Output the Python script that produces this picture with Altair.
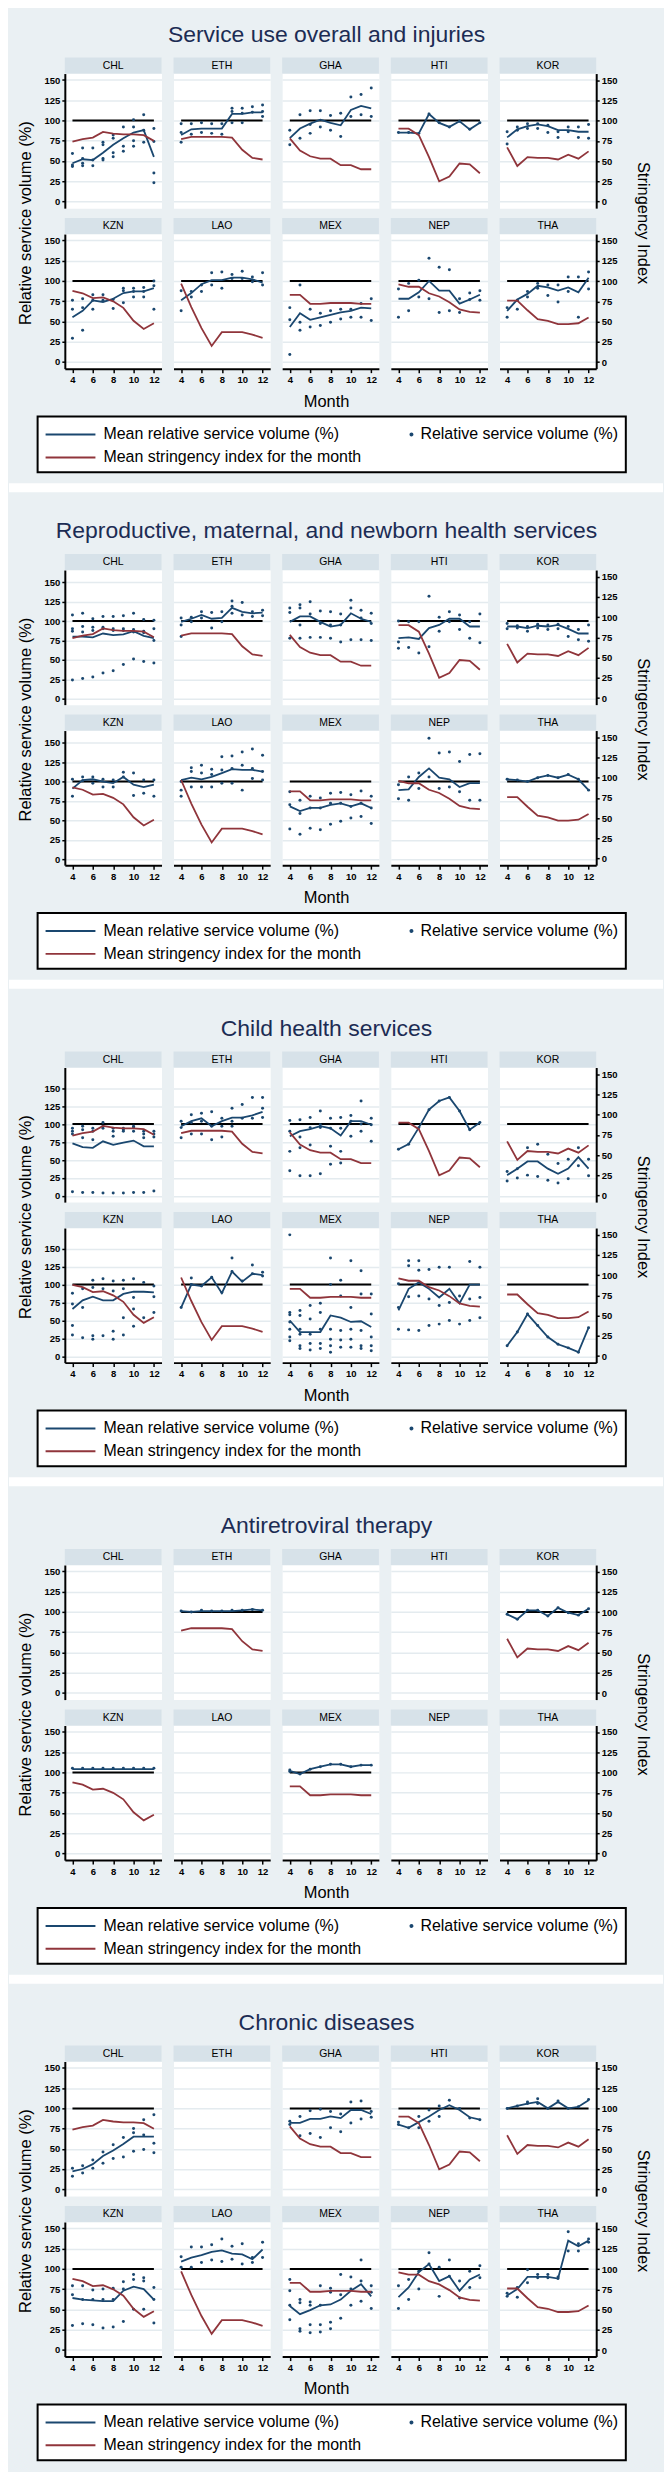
import altair as alt
import pandas as pd

MONTHS = [4, 5, 6, 7, 8, 9, 10, 11, 12]
COUNTRIES = ["CHL", "ETH", "GHA", "HTI", "KOR", "KZN", "LAO", "MEX", "NEP", "THA"]
REF_LEVEL = 100
Y_TICKS = [0, 25, 50, 75, 100, 125, 150]
X_TICKS = [4, 6, 8, 10, 12]
SECTION_TITLES = [
    "Service use overall and injuries",
    "Reproductive, maternal, and newborn health services",
    "Child health services",
    "Antiretroviral therapy",
    "Chronic diseases",
]
# legend entries (order chosen so that the 2-column legend reads like the original)
LEGEND_LABELS = [
    "Mean relative service volume (%)",
    "Mean stringency index for the month",
    "Relative service volume (%)",
]
LEFT_DOMAINS = [[-8.5, 158], [-7.7, 165.8], [-8.5, 178.5], [-8.5, 158], [-8.5, 158]]
RIGHT_DOMAIN = [-8, 158]
X_DOMAIN = [3.25, 12.75]

# Mean stringency index per country and month (same in every section)
STRINGENCY = {
    "CHL": [74, 77, 79, 86, 84, 83, 83, 82, 75],
    "ETH": [77, 80, 80, 80, 80, 79, 64, 54, 52],
    "GHA": [78, 63, 56, 53, 53, 45, 45, 40, 40],
    "HTI": [90, 90, 82, 55, 25, 31, 47, 46, 35],
    "KOR": [67, 44, 55, 54, 54, 52, 58, 53, 62],
    "KZN": [88, 85, 79, 80, 75, 67, 51, 41, 48],
    "LAO": [97, 68, 42, 20, 37, 37, 37, 34, 30],
    "MEX": [83, 83, 72, 72, 73, 73, 73, 72, 72],
    "NEP": [96, 93, 93, 85, 81, 74, 65, 62, 61],
    "THA": [76, 76, 64, 53, 51, 47, 47, 48, 55],
}

# Section 1: Service use overall and injuries
S1_MEAN = {
    "CHL": [47, 52, 51, 60, 70, 78, 85, 88, 55],
    "ETH": [82, 89, 90, 90, 90, 108, 108, 110, 110],
    "GHA": [78, 90, 96, 101, 97, 94, 113, 118, 115],
    "HTI": [85, 85, 84, 108, 97, 92, 99, 89, 97],
    "KOR": [79, 89, 93, 95, 93, 88, 88, 86, 86],
    "KZN": [55, 63, 76, 74, 78, 85, 87, 87, 91],
    "LAO": [76, 85, 96, 101, 101, 104, 104, 102, 98],
    "MEX": [43, 60, 52, 55, 58, 61, 63, 67, 66],
    "NEP": [78, 78, 86, 100, 88, 88, 72, 77, 83],
    "THA": [63, 77, 84, 94, 92, 88, 92, 86, 104],
}
S1_DOTS = {
    "CHL": [[59, 45, 43], [66, 53, 47, 44], [66, 51, 44], [73, 70, 53, 51], [82, 78, 60, 55], [92, 68, 62], [101, 92, 75, 68], [107, 88, 73], [90, 74, 35, 23]],
    "ETH": [[96, 85, 73], [96, 83], [97, 85], [96, 84], [96, 83], [115, 111, 97], [115, 109, 97], [117, 110], [119, 111, 105]],
    "GHA": [[88, 70], [107, 78], [112, 95, 84], [112, 92], [106, 88], [109, 80], [129, 105], [132, 107], [140, 105]],
    "HTI": [[85], [85], [84], [108], [97], [92], [99], [89], [97]],
    "KOR": [[86, 71], [92, 88], [96, 90], [96, 90], [94, 85], [86, 79], [92, 86], [92, 79], [95, 78]],
    "KZN": [[76, 65, 29], [78, 67, 39], [83, 76, 65], [83, 76], [77, 66], [91, 88, 73], [91, 87, 80], [92, 87, 80], [100, 94, 65]],
    "LAO": [[88, 63], [87, 80], [95, 87], [110, 95], [111, 91], [108, 103], [112, 103], [105, 99], [110, 95]],
    "MEX": [[67, 52, 9], [95, 49, 39], [65, 43], [60, 45], [63, 49], [65, 53], [65, 55], [72, 55], [78, 51]],
    "NEP": [[90, 55], [97, 63], [101, 80], [128, 78], [117, 61], [114, 63], [78, 61], [85, 77], [88, 76]],
    "THA": [[67, 55], [76, 65], [87, 80], [97, 91], [95, 82], [95, 74], [105, 87], [105, 55], [111, 90]],
}

# Section 2: Reproductive, maternal, and newborn health services
S2_MEAN = {
    "CHL": [80, 80, 79, 84, 82, 83, 87, 81, 78],
    "ETH": [99, 103, 108, 103, 104, 117, 112, 110, 111],
    "GHA": [99, 106, 106, 99, 93, 95, 110, 103, 99],
    "HTI": [78, 79, 77, 91, 95, 103, 103, 93, 93],
    "KOR": [93, 93, 91, 94, 93, 95, 90, 84, 84],
    "KZN": [91, 102, 103, 100, 98, 106, 96, 93, 96],
    "LAO": [102, 105, 103, 106, 111, 116, 115, 115, 113],
    "MEX": [68, 62, 66, 66, 70, 72, 68, 72, 66],
    "NEP": [89, 90, 106, 117, 105, 103, 93, 98, 98],
    "THA": [103, 102, 100, 105, 108, 105, 109, 103, 89],
}
S2_DOTS = {
    "CHL": [[108, 90, 87, 24], [110, 93, 86, 26], [103, 92, 88, 28], [106, 92, 90, 33], [106, 90, 88, 36], [107, 90, 88, 44], [110, 89, 86, 51], [102, 87, 85, 48], [101, 90, 75, 46]],
    "ETH": [[104, 95, 80], [105, 99], [112, 104], [111, 91], [112, 99], [126, 119, 110], [124, 108], [112, 106], [114, 107]],
    "GHA": [[117, 111, 78], [121, 117, 95, 78], [125, 109, 79], [113, 97, 79], [112, 95, 78], [109, 95, 73], [127, 117, 76], [114, 104, 76], [110, 97, 75]],
    "HTI": [[100, 73, 65], [99, 66], [99, 59], [132, 67], [105, 87], [112, 99], [108, 89], [99, 78], [109, 72]],
    "KOR": [[97, 90], [94, 91], [93, 87], [96, 91], [95, 89], [96, 90], [93, 80], [89, 76], [95, 74]],
    "KZN": [[103, 81], [106, 101], [106, 98], [103, 93], [102, 93], [112, 106], [111, 82], [102, 85], [102, 81]],
    "LAO": [[100, 89, 81], [118, 113, 93], [121, 111, 93], [116, 109, 93], [132, 115, 98], [133, 117, 98], [138, 121, 89], [142, 117, 104], [134, 113, 102]],
    "MEX": [[87, 70, 39], [76, 59, 32], [81, 66, 40], [79, 66, 38], [85, 72, 45], [86, 72, 49], [83, 68, 53], [88, 72, 55], [81, 66, 46]],
    "NEP": [[96, 78], [106, 76], [111, 91], [156, 106], [137, 91], [138, 93], [126, 87], [135, 76], [136, 76]],
    "THA": [[103], [102], [100], [105], [108], [105], [109], [103], [89]],
}

# Section 3: Child health services
S3_MEAN = {
    "CHL": [73, 68, 67, 76, 71, 74, 77, 69, 69],
    "ETH": [97, 104, 108, 97, 104, 109, 109, 112, 117],
    "GHA": [83, 90, 93, 97, 94, 84, 104, 104, 99],
    "HTI": [65, 72, 95, 120, 132, 137, 118, 92, 102],
    "KOR": [29, 38, 48, 48, 38, 31, 38, 54, 38],
    "KZN": [66, 78, 83, 78, 78, 87, 90, 90, 89],
    "LAO": [68, 100, 98, 110, 88, 118, 104, 115, 113],
    "MEX": [50, 34, 34, 34, 57, 54, 48, 49, 41],
    "NEP": [64, 94, 103, 94, 82, 94, 74, 100, 100],
    "THA": [15, 34, 59, 43, 27, 17, 12, 6, 40],
}
S3_DOTS = {
    "CHL": [[94, 90, 86, 6], [97, 92, 81, 5], [94, 90, 78, 5], [102, 97, 94, 4], [94, 90, 83, 4], [94, 92, 90, 4], [97, 95, 90, 5], [90, 86, 81, 5], [90, 86, 82, 7]],
    "ETH": [[104, 95, 81], [113, 102, 86], [115, 104, 86], [117, 97, 78], [108, 97, 82], [122, 104, 97], [127, 108], [137, 108], [137, 122, 109]],
    "GHA": [[105, 90, 62, 35], [106, 82, 67, 28], [109, 95, 71, 28], [118, 99, 95, 31], [108, 94, 69, 44], [109, 94, 62, 46], [112, 104, 83], [132, 100, 90], [108, 99, 76]],
    "HTI": [[65], [72], [95], [120], [132], [137], [118], [92], [102]],
    "KOR": [[34, 21], [38, 25], [67, 29], [72, 27], [58, 22], [45, 18], [51, 24], [67, 42], [51, 28]],
    "KZN": [[88, 73, 43, 30], [94, 68, 26], [106, 96, 29, 24], [108, 94, 29], [105, 91, 35, 24], [106, 94, 54, 30], [108, 82, 66, 42], [103, 54], [98, 83, 61]],
    "LAO": [[68], [109, 100], [98], [110], [89], [137, 118], [105], [127, 115], [117, 112]],
    "MEX": [[169, 61, 58, 48, 38, 27, 22], [64, 57, 38, 31, 15, 11], [71, 52, 31, 18, 9], [74, 61, 38, 18, 11], [137, 100, 38, 24, 15, 6], [106, 84, 36, 23, 13], [133, 68, 38, 24, 13], [119, 87, 36, 15, 11], [87, 59, 27, 15, 8]],
    "NEP": [[101, 68, 38], [133, 126, 83, 37], [133, 120, 84, 36], [121, 80, 43], [124, 71, 45], [124, 75, 50], [84, 45], [132, 80, 50], [124, 82, 54]],
    "THA": [[15], [34], [59], [43], [27], [17], [12], [6], [40]],
}

# Section 4: Antiretroviral therapy
S4_MEAN = {
    "ETH": [101, 100, 101, 101, 101, 101, 102, 103, 102],
    "KOR": [97, 91, 102, 102, 95, 105, 99, 96, 104],
    "KZN": [104, 104, 104, 104, 104, 104, 104, 104, 104],
    "MEX": [102, 98, 104, 107, 110, 110, 107, 109, 109],
}
S4_DOTS = {
    "ETH": [[101], [100], [102], [101], [101], [102], [102], [103], [102]],
    "KOR": [[97], [91], [102], [102], [95], [105], [99], [96], [104]],
    "KZN": [[105], [105], [105], [105], [105], [105], [105], [105], [105]],
    "MEX": [[103, 101], [98], [104], [107], [110], [110], [107], [109], [109]],
}

# Section 5: Chronic diseases
S5_MEAN = {
    "CHL": [22, 25, 31, 41, 48, 56, 65, 65, 65],
    "GHA": [82, 82, 87, 87, 90, 88, 98, 98, 93],
    "HTI": [80, 76, 83, 90, 98, 104, 98, 89, 86],
    "KOR": [100, 103, 106, 108, 100, 108, 100, 102, 110],
    "KZN": [64, 62, 61, 60, 60, 73, 78, 75, 62],
    "LAO": [109, 114, 117, 121, 123, 119, 118, 112, 124],
    "MEX": [54, 44, 49, 55, 56, 62, 73, 81, 66],
    "NEP": [65, 77, 96, 106, 85, 91, 73, 87, 93],
    "THA": [67, 75, 90, 90, 90, 88, 135, 128, 135],
}
S5_DOTS = {
    "CHL": [[26, 16], [29, 20], [36, 26], [46, 32], [55, 38], [64, 40], [75, 70, 47], [86, 67, 49], [92, 57, 45]],
    "GHA": [[84, 80], [90, 66], [97, 69], [99, 64], [96, 76], [93, 71], [108, 82], [109, 87], [96, 89]],
    "HTI": [[83, 80], [76], [90, 76], [98, 84], [103, 90], [110], [100], [88], [86]],
    "KOR": [[100], [103], [108, 106], [112, 106], [100], [109], [100], [102], [111]],
    "KZN": [[79, 68, 30], [79, 62, 32], [74, 62, 31], [75, 62, 27], [76, 62, 28], [84, 75, 35], [93, 87, 50], [89, 85, 50], [77, 62, 33]],
    "LAO": [[115, 102], [127, 102], [127, 108], [130, 111], [137, 109], [128, 112], [131, 106], [114, 108], [133, 114]],
    "MEX": [[87, 73, 55, 37], [62, 58, 26, 23], [59, 55, 31, 21], [79, 55, 31, 22], [76, 71, 34, 26], [93, 68, 39], [90, 75, 55], [111, 85, 60], [79, 71, 51]],
    "NEP": [[79, 51], [87, 62], [97, 75], [120, 106], [102, 66], [111, 91], [85, 64], [97, 77], [104, 89]],
    "THA": [[70, 66], [77, 65], [99, 83], [93, 89], [93, 89], [90, 88], [146, 122], [131, 122], [137, 133]],
}

SECTIONS = [(S1_MEAN, S1_DOTS), (S2_MEAN, S2_DOTS), (S3_MEAN, S3_DOTS), (S4_MEAN, S4_DOTS), (S5_MEAN, S5_DOTS)]

# ---------------- style / layout ----------------
FONT = "Liberation Sans"
NAVY = "#1a476f"
MAROON = "#90353b"
BG = "#eaf0f3"
STRIP = "#d7e2e9"
GRID = "#e4ebef"
TITLE_COLOR = "#1c2c54"
W, H = 97, 135
GRID_CENTER = 262.5          # horizontal centre of the 5 panels, from the first panel's left edge
TITLE_H = [43, 51, 51, 51, 51]
TITLE_Y = [29.3, 37.3, 37.3, 37.3, 37.3]
FOOT_H = 80
SEP_H = [24, 25, 25, 24]
BAND = (8, 17)
LINE_PATH = "M-2.5,0H2.5"
DOT_PATH = "M2.5,0A0.1,0.1 0 1,1 2.3,0A0.1,0.1 0 1,1 2.5,0Z"
CLEAR = alt.ViewBackground(fill="transparent", stroke="transparent")

# ---------------- long table ----------------
rows = []
for si, (mean, dots) in enumerate(SECTIONS):
    for c in COUNTRIES:
        rows.append(dict(section=si, country=c, kind="hdr", month=None, value=None, series=LEGEND_LABELS[0]))
        if c not in mean:
            continue
        for m in (MONTHS[0], MONTHS[-1]):
            rows.append(dict(section=si, country=c, kind="ref", month=m, value=REF_LEVEL, series=""))
        for m, v in zip(MONTHS, mean[c]):
            rows.append(dict(section=si, country=c, kind="mean", month=m, value=v, series=LEGEND_LABELS[0]))
        for m, vs in zip(MONTHS, dots[c]):
            for v in vs:
                rows.append(dict(section=si, country=c, kind="pt", month=m, value=v, series=LEGEND_LABELS[2]))
        for m, v in zip(MONTHS, STRINGENCY[c]):
            rows.append(dict(section=si, country=c, kind="str", month=m, value=v, series=LEGEND_LABELS[1]))
df = pd.DataFrame(rows)

COLOR_SCALE = alt.Scale(domain=LEGEND_LABELS, range=[NAVY, MAROON, NAVY])
SHAPE_SCALE = alt.Scale(domain=LEGEND_LABELS, range=[LINE_PATH, LINE_PATH, DOT_PATH])
LEGEND = alt.Legend(
    title=None, orient="none", legendX=-27.3, legendY=31, columns=2,
    fillColor="white", strokeColor="black", padding=7, rowPadding=4,
    columnPadding=0, labelFont=FONT, labelFontSize=16, labelColor="black",
    labelOffset=22, labelLimit=500, symbolSize=400, symbolOffset=15,
    symbolStrokeWidth=2, symbolOpacity=1,
)

LABEL_STYLE = dict(labelFont=FONT, labelFontSize=9.5, labelFontWeight="bold", labelColor="black")


def rowfilter(si, country, kind):
    return f"datum.section == {si} && datum.country == '{country}' && datum.kind == '{kind}'"


def panel(si, ci, country):
    col, row = ci % 5, ci // 5

    def sub(kind):
        return alt.Chart().transform_filter(rowfilter(si, country, kind))

    if row == 1:
        xaxis = alt.Axis(values=X_TICKS, format="d", grid=False, domainColor="black", domainWidth=2,
                         tickColor="black", tickWidth=1.5, tickSize=4, labelPadding=2,
                         title=None, **LABEL_STYLE)
    else:
        xaxis = None
    if col == 0:
        laxis = alt.Axis(values=Y_TICKS, grid=True, gridColor=GRID, gridWidth=1.5,
                         domainColor="black", domainWidth=2, tickColor="black", tickSize=3,
                         tickWidth=1.5, labelPadding=2, title=None, **LABEL_STYLE)
    else:
        laxis = alt.Axis(values=Y_TICKS, grid=True, gridColor=GRID, gridWidth=1.5,
                         domain=False, ticks=False, labels=False, title=None)
    if col == 4:
        raxis = alt.Axis(orient="right", values=Y_TICKS, grid=False, domainColor="black",
                         domainWidth=2, tickColor="black", tickSize=3, tickWidth=1.5,
                         labelPadding=2, title=None, **LABEL_STYLE)
    else:
        raxis = None

    X = alt.X("month:Q", scale=alt.Scale(domain=X_DOMAIN, nice=False, zero=False), axis=xaxis)
    YL = alt.Y("value:Q", scale=alt.Scale(domain=LEFT_DOMAINS[si], nice=False, zero=False), axis=laxis)
    YR = alt.Y("value:Q", scale=alt.Scale(domain=RIGHT_DOMAIN, nice=False, zero=False), axis=raxis)

    layers = [
        sub("hdr").mark_rect(color=STRIP).encode(
            x=alt.value(0), x2=alt.value(W), y=alt.value(-16), y2=alt.value(0)),
        sub("hdr").mark_text(font=FONT, fontSize=10.5, color="black", align="center",
                             baseline="middle").encode(
            x=alt.value(W / 2), y=alt.value(-8), text="country:N"),
        sub("ref").mark_line(color="black", strokeWidth=2).encode(x=X, y=YL),
        sub("pt").mark_circle(color=NAVY, size=9, opacity=1).encode(x=X, y=YL),
        sub("mean").mark_line(color=NAVY, strokeWidth=1.8).encode(x=X, y=YL),
    ]
    # side titles, centred on the gap between the two panel rows
    if ci == 5:
        layers.append(sub("hdr").mark_text(
            text="Relative service volume (%)", angle=270, font=FONT, fontSize=16.5,
            color="black", align="center", baseline="middle").encode(
            x=alt.value(-39), y=alt.value(-11)))
    if ci == 9:
        layers.append(sub("hdr").mark_text(
            text="Stringency Index", angle=90, font=FONT, fontSize=16.5,
            color="black", align="center", baseline="middle").encode(
            x=alt.value(W + 47), y=alt.value(-11)))
    strn = sub("str").mark_line(color=MAROON, strokeWidth=1.8).encode(x=X, y=YR)

    left = alt.layer(*layers)
    right = alt.layer(strn)
    return alt.layer(left, right).resolve_scale(y="independent").properties(width=W, height=H)


def title_unit(si):
    return alt.Chart().transform_filter(rowfilter(si, "CHL", "hdr")).mark_text(
        text=SECTION_TITLES[si], font=FONT, fontSize=23, color=TITLE_COLOR,
        align="center", baseline="alphabetic").encode(
        x=alt.value(GRID_CENTER), y=alt.value(TITLE_Y[si])
    ).properties(width=W, height=TITLE_H[si], view=CLEAR)


def grid_unit(si):
    cols = []
    for c in range(5):
        cols.append(alt.vconcat(panel(si, c, COUNTRIES[c]), panel(si, 5 + c, COUNTRIES[5 + c]),
                                spacing=26, bounds="flush"))
    return alt.hconcat(*cols, spacing=10)


def footer_unit(si):
    base = alt.Chart().transform_filter(rowfilter(si, "CHL", "hdr"))
    month = base.mark_text(text="Month", font=FONT, fontSize=16.5, color="black",
                           align="center", baseline="alphabetic").encode(
        x=alt.value(GRID_CENTER), y=alt.value(21))
    provider = base.mark_point(filled=False, opacity=0, size=4, strokeWidth=2).encode(
        x=alt.value(10), y=alt.value(10),
        color=alt.Color("series:N", scale=COLOR_SCALE, legend=LEGEND),
        shape=alt.Shape("series:N", scale=SHAPE_SCALE, legend=LEGEND))
    return alt.layer(month, provider).properties(width=W, height=FOOT_H, view=CLEAR)


def separator(k):
    return alt.Chart().transform_filter(rowfilter(0, "CHL", "hdr")).mark_rect(color="white").encode(
        x=alt.value(-56), x2=alt.value(600), y=alt.value(BAND[0]), y2=alt.value(BAND[1])
    ).properties(width=W, height=SEP_H[k], view=CLEAR)


items = []
for si in range(5):
    items += [title_unit(si), grid_unit(si), footer_unit(si)]
    if si < 4:
        items.append(separator(si))

chart = alt.vconcat(*items, data=df, spacing=0).resolve_scale(
    color="independent", shape="independent"
).properties(
    background=BG, padding={"left": 0, "right": 0, "top": 0, "bottom": 6},
).configure_view(stroke="transparent", fill="white").configure_legend(strokeWidth=2)

chart.save("out.html", embed_options={"renderer": "svg", "actions": False})
